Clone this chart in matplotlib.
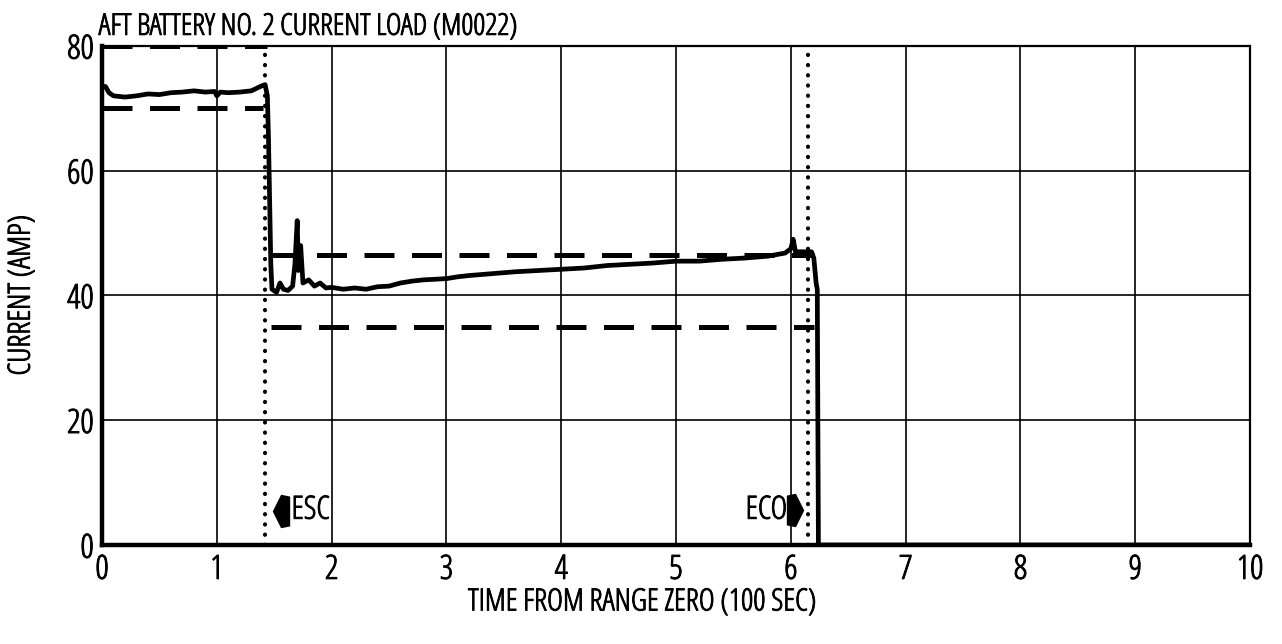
import matplotlib
matplotlib.use("Agg")
import matplotlib.pyplot as plt
import matplotlib.patheffects as pe
from matplotlib.path import Path

plt.rcParams['font.family'] = ['Open Sans', 'DejaVu Sans']
plt.rcParams['font.stretch'] = 'condensed'

# battery current trace (time in 100 s, current in amps)
time = [0.0, 0.03, 0.06, 0.1, 0.2, 0.3, 0.4, 0.5, 0.6, 0.7, 0.8, 0.9, 0.98, 1.0,
        1.03, 1.1, 1.2, 1.3, 1.38, 1.42, 1.44, 1.45, 1.46, 1.47, 1.48, 1.52, 1.55,
        1.58, 1.62, 1.66, 1.68, 1.70, 1.71, 1.73, 1.75, 1.8, 1.85, 1.9, 1.95, 2.0,
        2.1, 2.2, 2.3, 2.4, 2.5, 2.6, 2.7, 2.8, 2.9, 3.0, 3.1, 3.2, 3.4, 3.6, 3.8,
        4.0, 4.2, 4.4, 4.6, 4.8, 5.0, 5.2, 5.4, 5.6, 5.8, 5.95, 6.0, 6.02, 6.04,
        6.1, 6.18, 6.2, 6.22, 6.23, 6.24, 10.0]
current = [73.5, 73.5, 72.5, 72.0, 71.8, 72.0, 72.3, 72.2, 72.5, 72.6, 72.8, 72.6, 72.7, 72.0,
           72.6, 72.5, 72.6, 72.8, 73.5, 73.8, 72.0, 65.0, 55.0, 45.0, 41.0, 40.5, 42.0,
           41.0, 40.8, 41.5, 45.0, 52.0, 44.0, 48.0, 42.0, 42.5, 41.5, 42.0, 41.2, 41.3,
           41.0, 41.2, 41.0, 41.4, 41.5, 42.0, 42.3, 42.5, 42.6, 42.7, 43.0, 43.2, 43.5, 43.8, 44.0,
           44.2, 44.4, 44.8, 45.0, 45.2, 45.5, 45.5, 45.8, 46.0, 46.3, 46.8, 47.5, 49.0, 47.0,
           47.0, 47.0, 46.0, 42.0, 41.0, 0.0, 0.0]

# predicted limit bands: (start, end, level)
limits = [(0.0, 1.44, 80.0), (0.0, 1.40, 70.0), (1.45, 6.2, 46.5), (1.47, 6.2, 35.0)]

events = [1.42, 6.15]   # ESC, ECO
xticks = list(range(0, 11))
yticks = [0, 20, 40, 60, 80]

heavy = [pe.withStroke(linewidth=0.7, foreground='black')]

fig = plt.figure(figsize=(12.82, 6.44), dpi=100)
ax = fig.add_axes([0.0796, 0.1537, 0.8955, 0.775])

for x0, x1, lev in limits:
    ax.plot([x0, x1], [lev, lev], color='black', lw=3.6,
            linestyle=(0, (6, 3.5)), dash_capstyle='butt')

for ev in events:
    ax.plot([ev, ev], [0, 80], color='black', lw=3.0,
            linestyle=(0, (0.05, 2.4)), dash_capstyle='round')

ax.plot(time, current, color='black', lw=3.4, solid_joinstyle='round')

# event arrows
arrow_left = Path([(-0.5, 0), (0.0, 1), (0.5, 0.9), (0.5, -0.9), (0.0, -1), (-0.5, 0)],
                  [Path.MOVETO] + [Path.LINETO] * 4 + [Path.CLOSEPOLY])
arrow_right = Path([(0.5, 0), (0.0, 1), (-0.5, 0.9), (-0.5, -0.9), (0.0, -1), (0.5, 0)],
                   [Path.MOVETO] + [Path.LINETO] * 4 + [Path.CLOSEPOLY])
ax.plot([1.56], [5.5], marker=arrow_left, markersize=23, color='black')
ax.plot([6.04], [5.6], marker=arrow_right, markersize=23, color='black')
ax.text(1.65, 5.5, 'ESC', fontsize=23, va='center', ha='left', path_effects=heavy)
ax.text(5.97, 5.5, 'ECO', fontsize=23, va='center', ha='right', path_effects=heavy)

ax.set_xlim(0, 10)
ax.set_ylim(0, 80)
ax.set_xticks(xticks)
ax.set_yticks(yticks)
ax.tick_params(length=0, labelsize=24, pad=6)
for lab in ax.get_xticklabels() + ax.get_yticklabels():
    lab.set_path_effects(heavy)
ax.grid(True, color='black', lw=1.2)
ax.set_axisbelow(True)

for side in ['left', 'bottom']:
    ax.spines[side].set_linewidth(3.2)
for side in ['top', 'right']:
    ax.spines[side].set_linewidth(1.6)

ax.set_title('AFT BATTERY NO. 2 CURRENT LOAD (M0022)', loc='left', fontsize=21.5,
             pad=8, x=-0.003, path_effects=heavy)
ax.set_xlabel('TIME FROM RANGE ZERO (100 SEC)', fontsize=22, path_effects=heavy)
ax.xaxis.set_label_coords(0.47, -0.115)
ax.xaxis.label.set_va('center')
ax.set_ylabel('CURRENT (AMP)', fontsize=22, path_effects=heavy)
ax.yaxis.set_label_coords(-0.07, 0.5)
ax.yaxis.label.set_va('center')

fig.savefig('out.png', dpi=100)
